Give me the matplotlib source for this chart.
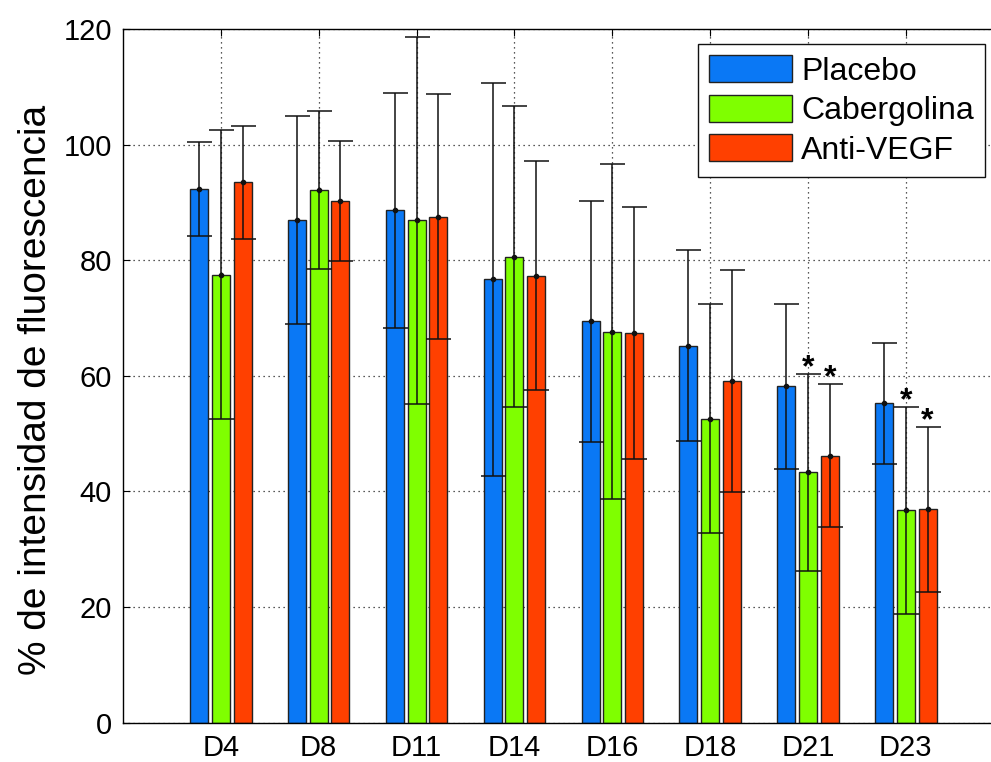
import numpy as np
import matplotlib
matplotlib.use("Agg")
import matplotlib.pyplot as plt

plt.rcParams['font.family'] = ['Liberation Sans', 'DejaVu Sans']

days = ['D4', 'D8', 'D11', 'D14', 'D16', 'D18', 'D21', 'D23']
series_names = ['Placebo', 'Cabergolina', 'Anti-VEGF']

placebo = [92.3, 86.9, 88.6, 76.7, 69.4, 65.2, 58.2, 55.2]
placebo_err = [8.2, 18.0, 20.3, 34.0, 20.8, 16.5, 14.3, 10.4]
cabergolina = [77.5, 92.1, 86.9, 80.6, 67.6, 52.6, 43.3, 36.7]
cabergolina_err = [25.0, 13.7, 31.8, 26.0, 29.0, 19.8, 17.0, 17.9]
antivegf = [93.5, 90.3, 87.5, 77.3, 67.4, 59.1, 46.2, 36.9]
antivegf_err = [9.8, 10.4, 21.2, 19.8, 21.8, 19.2, 12.4, 14.3]

# (dia, serie) con diferencia significativa
significativos = [(6, 1), (6, 2), (7, 1), (7, 2)]

colores = ['#0A78F5', '#7FFF00', '#FF4000']
medias = [placebo, cabergolina, antivegf]
errores = [placebo_err, cabergolina_err, antivegf_err]

fig = plt.figure(figsize=(9.91, 7.62), dpi=100)
ax = fig.add_axes([123 / 991, 39.5 / 762, 880.7 / 991, 693.5 / 762])

x = np.arange(1, len(days) + 1)
offsets = [-0.222, 0.0, 0.222]
ancho = 0.185

for k in range(3):
    xs = x + offsets[k]
    ax.bar(xs, medias[k], ancho, color=colores[k], edgecolor='#222222',
           linewidth=1.0, label=series_names[k], zorder=2)
    ax.errorbar(xs, medias[k], yerr=errores[k], fmt='o', ms=3,
                color='#111111', ecolor='#111111', elinewidth=1.1,
                capsize=9, capthick=1.1, zorder=3)

for d, s in significativos:
    tope = medias[s][d] + errores[s][d]
    ax.text(x[d] + offsets[s], tope - 0.4, '*', ha='center', va='baseline',
            fontsize=23, fontweight='bold', zorder=4)

ax.set_xlim(0, 9)
ax.set_ylim(0, 120)
ax.set_xticks(x)
ax.set_xticklabels(days)
ax.set_yticks(np.arange(0, 121, 20))
ax.tick_params(direction='in', length=5, labelsize=21, top=True, right=True,
               pad=8)
ax.set_axisbelow(True)
ax.grid(True, linestyle=(0, (1, 3)), color='#222222', linewidth=0.9)
for sp in ax.spines.values():
    sp.set_linewidth(1.0)

ax.set_ylabel('% de intensidad de fluorescencia', fontsize=28)
ax.yaxis.set_label_coords(-0.0783, 0.4795)

leg = ax.legend(loc='upper left', bbox_to_anchor=(698 / 991, 1 - 44 / 762),
                bbox_transform=fig.transFigure, fontsize=23, frameon=True,
                fancybox=False, shadow=False, framealpha=1,
                handlelength=2.6, handleheight=0.92, handletextpad=0.28,
                labelspacing=0.25, borderpad=0.35, borderaxespad=0)
leg.get_frame().set_edgecolor('#111111')
leg.get_frame().set_linewidth(1.0)

fig.savefig('out.png', dpi=100)
